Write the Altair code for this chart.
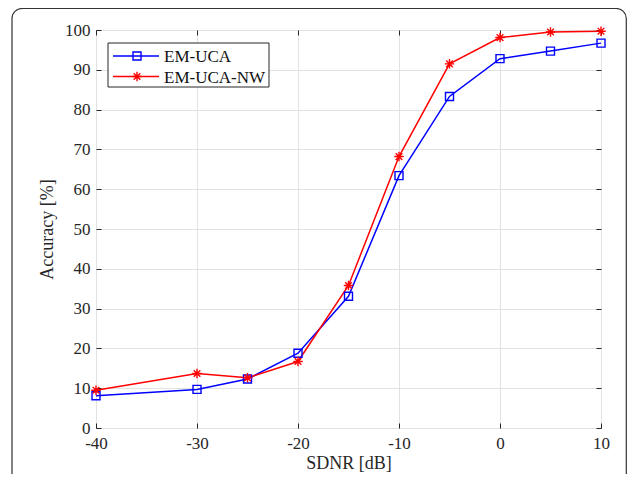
import altair as alt
import pandas as pd

# ---- data ----
snr = [-40, -30, -25, -20, -15, -10, -5, 0, 5, 10]
em_uca = [8.1, 9.7, 12.3, 18.8, 33.1, 63.4, 83.3, 92.8, 94.7, 96.7]
em_uca_nw = [9.5, 13.7, 12.6, 16.7, 35.8, 68.2, 91.5, 98.1, 99.5, 99.7]
series_names = ["EM-UCA", "EM-UCA-NW"]
colors = ["#0000ff", "#ff0000"]
x_ticks = [-40, -30, -20, -10, 0, 10]
y_ticks = [0, 10, 20, 30, 40, 50, 60, 70, 80, 90, 100]

rows = []
for name, vals in zip(series_names, [em_uca, em_uca_nw]):
    for s, v in zip(snr, vals):
        rows.append({"SDNR": s, "Accuracy": v, "series": name})
df = pd.DataFrame(rows)
legend_df = pd.DataFrame({"series": series_names})
one = pd.DataFrame({"k": [0]})

FONT = "Liberation Serif"
AX = "#262626"
STAR = "M-1,0L1,0M0,-1L0,1M-0.7,-0.7L0.7,0.7M-0.7,0.7L0.7,-0.7"

W, H = 505, 398

xscale = alt.Scale(domain=[-40, 10], nice=False, zero=False)
yscale = alt.Scale(domain=[0, 100], nice=False, zero=False)

x_main = alt.X("SDNR:Q", scale=xscale, axis=alt.Axis(
    title="SDNR [dB]", values=x_ticks, labelExpr="'' + datum.value",
    labelFlush=False, labelOverlap=False,
    grid=True, gridColor="#e2e2e2", domain=False, ticks=True, tickSize=5,
    offset=-5, tickColor=AX, labelPadding=7, labelFontSize=17, labelFont=FONT,
    labelColor=AX, titleFont=FONT, titleFontSize=18, titleFontWeight="normal",
    titleColor=AX, titlePadding=3))
y_main = alt.Y("Accuracy:Q", scale=yscale, axis=alt.Axis(
    title="Accuracy [%]", values=y_ticks, labelExpr="'' + datum.value",
    labelFlush=False, labelOverlap=False,
    grid=True, gridColor="#e2e2e2", domain=False, ticks=True, tickSize=5,
    offset=-5, tickColor=AX, labelPadding=6, labelFontSize=17, labelFont=FONT,
    labelColor=AX, titleFont=FONT, titleFontSize=18, titleFontWeight="normal",
    titleColor=AX, titlePadding=8))

x_none = alt.X("SDNR:Q", scale=xscale, axis=None)
y_none = alt.Y("Accuracy:Q", scale=yscale, axis=None)

base = alt.Chart(df)

lines = base.mark_line(strokeWidth=1.5).encode(
    x=x_main, y=y_main,
    color=alt.Color("series:N", scale=alt.Scale(domain=series_names, range=colors), legend=None),
)

pts_sq = base.transform_filter(alt.datum.series == series_names[0]).mark_point(
    shape="square", size=64, filled=False, strokeWidth=1.4, color=colors[0], opacity=1
).encode(x=x_none, y=y_none)

pts_star = base.transform_filter(alt.datum.series == series_names[1]).mark_point(
    shape=STAR, size=90, filled=False, strokeWidth=1.4, color=colors[1], opacity=1
).encode(x=x_none, y=y_none)

ticks_tr = base.mark_point(opacity=0).encode(
    x=alt.X("SDNR:Q", scale=xscale, axis=alt.Axis(
        orient="top", values=x_ticks, labels=False, title=None, domain=False,
        grid=False, tickSize=5, offset=-5, tickColor=AX)),
    y=alt.Y("Accuracy:Q", scale=yscale, axis=alt.Axis(
        orient="right", values=y_ticks, labels=False, title=None, domain=False,
        grid=False, tickSize=5, offset=-5, tickColor=AX)),
)

# legend (drawn as marks inside the plot area)
leg_box = alt.Chart(one).mark_rect(fill="white", stroke="#262626", strokeWidth=1).encode(
    x=alt.value(12), x2=alt.value(173), y=alt.value(13), y2=alt.value(57))

leg_layers = []
for i, (name, col) in enumerate(zip(series_names, colors)):
    yy = 26 + i * 20.5
    sub = alt.Chart(legend_df).transform_filter(alt.datum.series == name)
    leg_layers.append(sub.mark_rule(color=col, strokeWidth=1.5).encode(
        x=alt.value(17), x2=alt.value(63), y=alt.value(yy)))
    if i == 0:
        leg_layers.append(sub.mark_point(shape="square", size=64, filled=False,
                                         strokeWidth=1.4, color=col, opacity=1).encode(
            x=alt.value(41), y=alt.value(yy)))
    else:
        leg_layers.append(sub.mark_point(shape=STAR, size=90, filled=False,
                                         strokeWidth=1.4, color=col, opacity=1).encode(
            x=alt.value(41), y=alt.value(yy)))
    leg_layers.append(sub.mark_text(align="left", baseline="middle", font=FONT,
                                    fontSize=17, color="#111").encode(
        x=alt.value(68), y=alt.value(yy + 1), text="series:N"))

frame = alt.Chart(one).mark_rect(fill=None, stroke="#333333", strokeWidth=1.2,
                                 cornerRadius=10).encode(
    x=alt.value(-84), x2=alt.value(530.3), y=alt.value(-21.5), y2=alt.value(480))

chart = alt.layer(
    frame, lines, pts_sq, pts_star, ticks_tr, leg_box, *leg_layers
).resolve_axis(x="independent", y="independent").properties(
    width=W, height=H,
    autosize=alt.AutoSizeParams(type="none"),
    padding={"left": 88, "top": 22, "right": 26, "bottom": 46},
    background="white",
).configure_view(stroke=AX, strokeWidth=1)

chart.save("out.html", embed_options={"renderer": "svg", "actions": False})
